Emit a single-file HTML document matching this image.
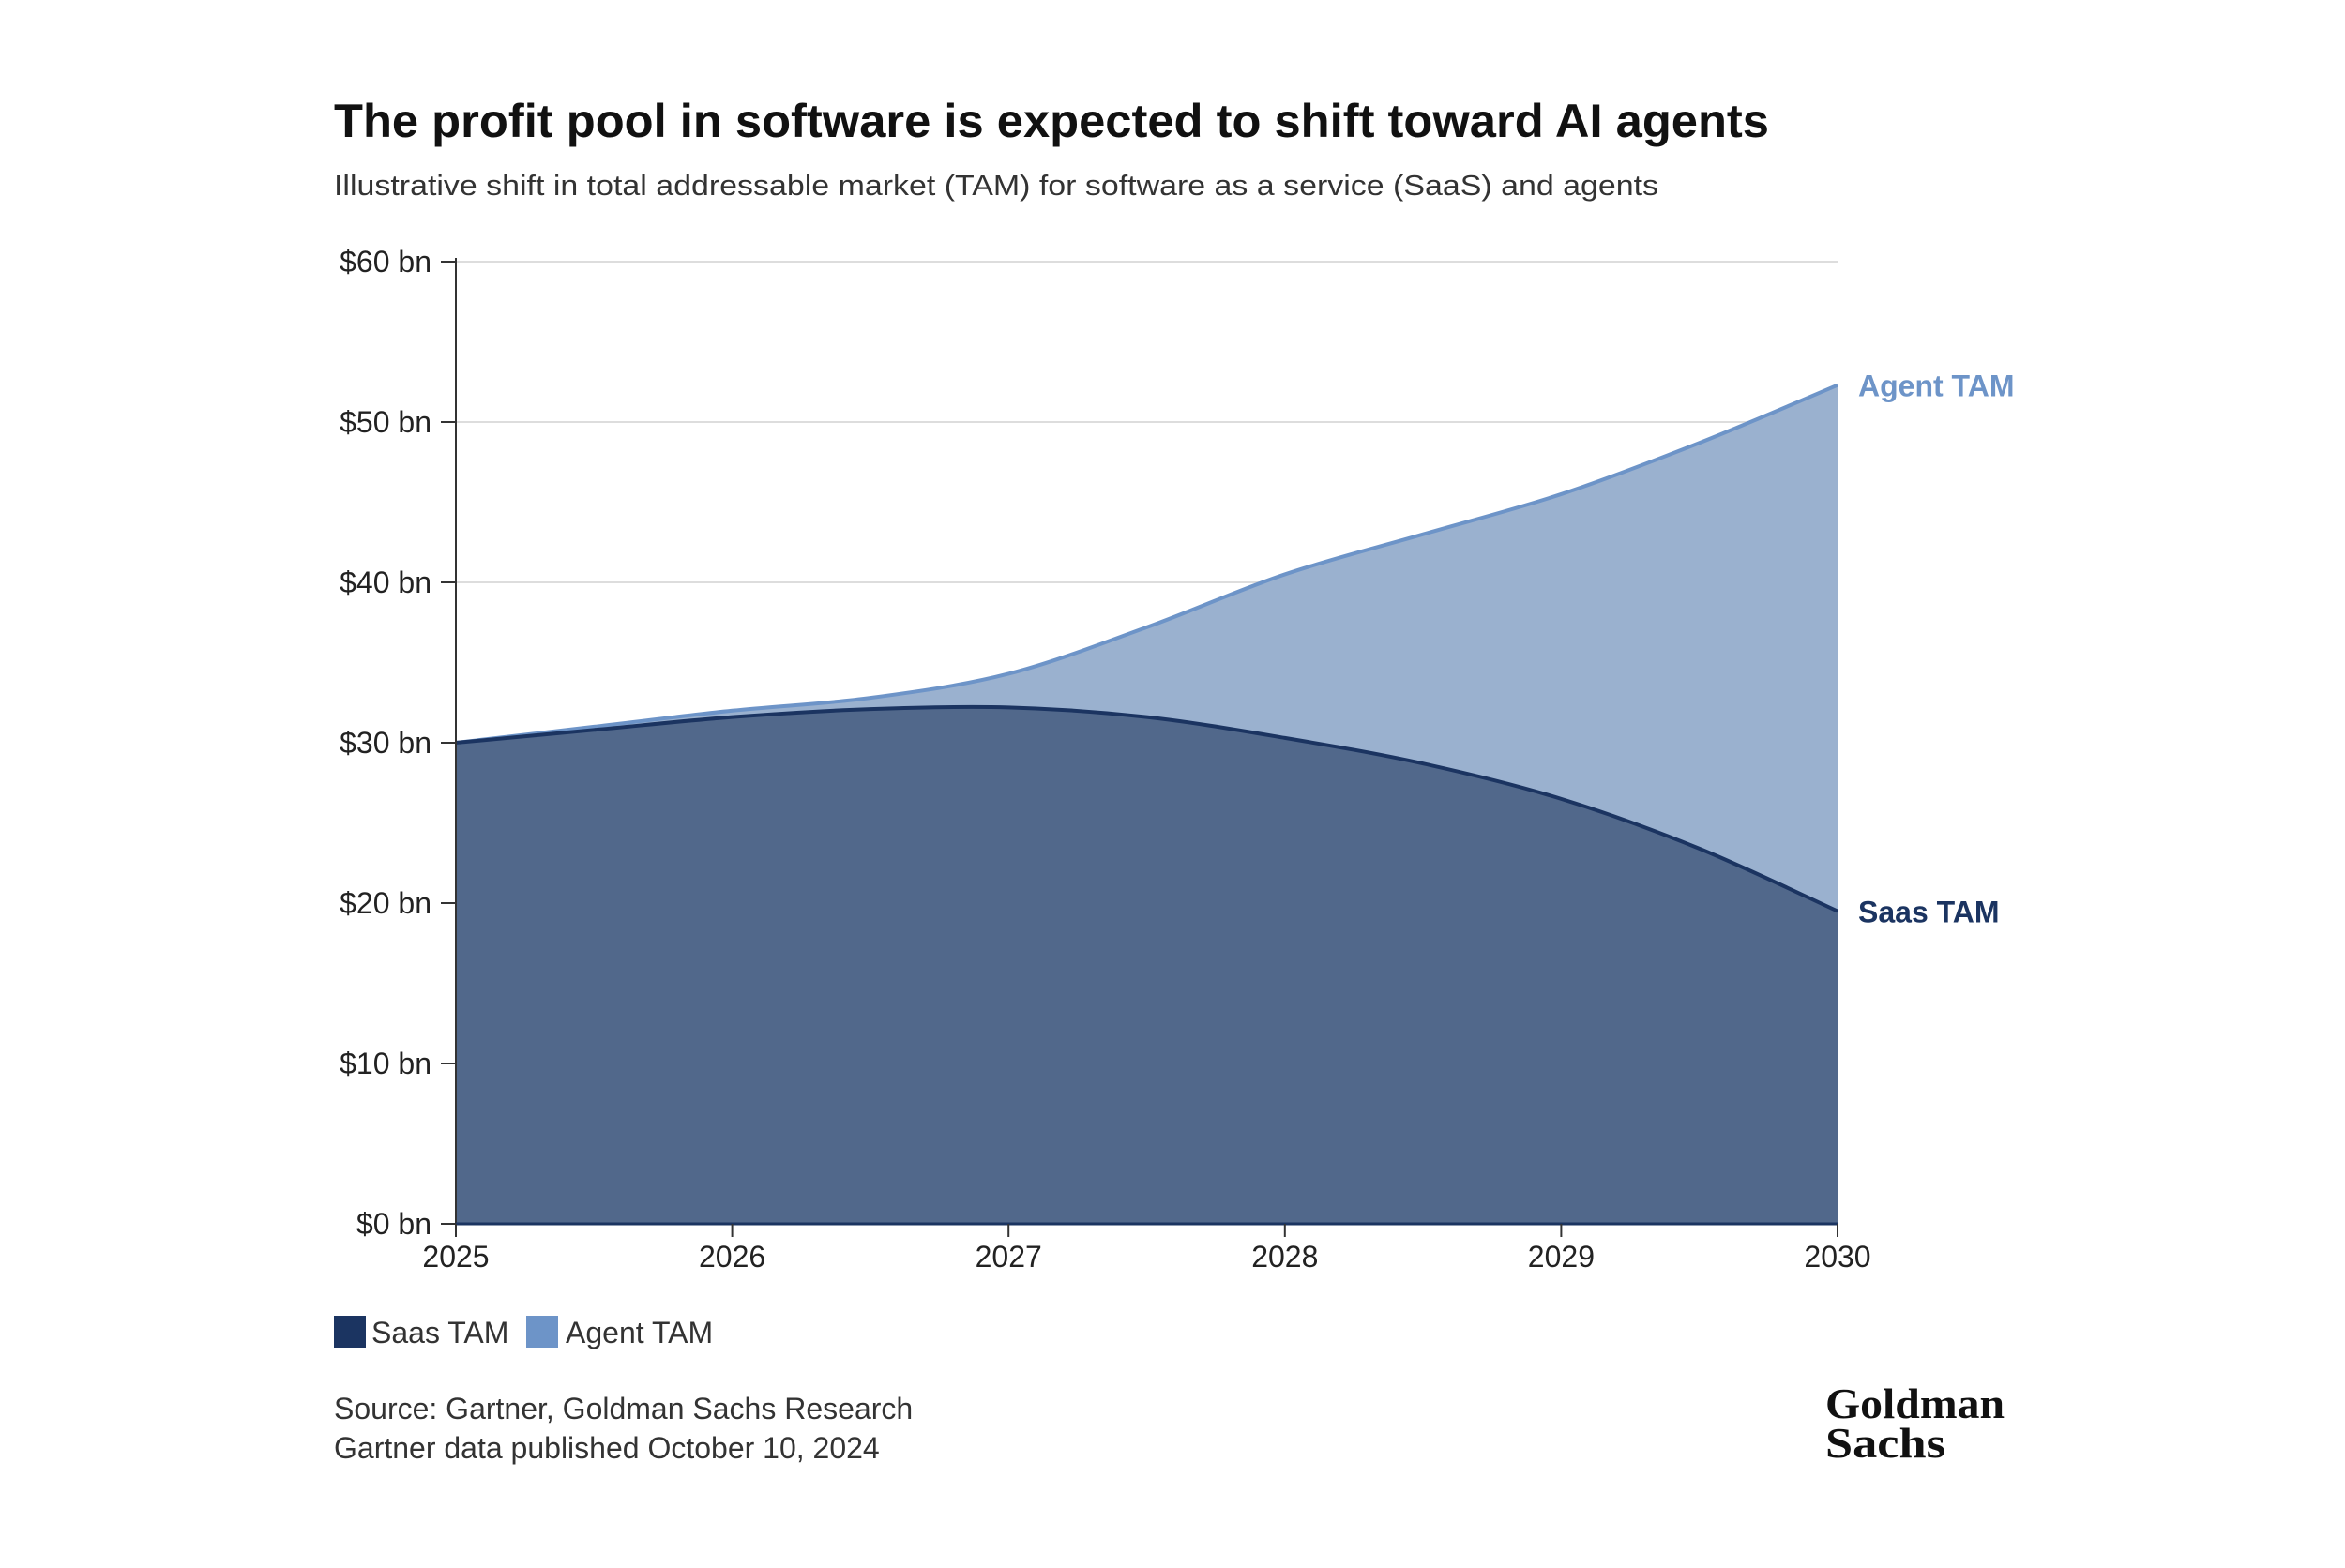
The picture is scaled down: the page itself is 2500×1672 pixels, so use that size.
<!DOCTYPE html>
<html><head><meta charset="utf-8"><style>
body{margin:0;background:#fff;width:2500px;height:1667px;overflow:hidden;font-family:"Liberation Sans",sans-serif;}
svg text{font-family:"Liberation Sans",sans-serif;}
</style></head><body>
<svg width="2500" height="1667">
<text x="356" y="146" font-size="50" font-weight="bold" fill="#111" textLength="1530" lengthAdjust="spacingAndGlyphs">The profit pool in software is expected to shift toward AI agents</text>
<text x="356" y="208" font-size="31" fill="#333" textLength="1412" lengthAdjust="spacingAndGlyphs">Illustrative shift in total addressable market (TAM) for software as a service (SaaS) and agents</text>
<g id="grid"></g><g id="areas"></g><g id="axes"></g>
<rect x="356" y="1403" width="34" height="34" fill="#1b3461"/>
<text x="396" y="1432" font-size="32" fill="#333">Saas TAM</text>
<rect x="561" y="1403" width="34" height="34" fill="#6d94c8"/>
<text x="603" y="1432" font-size="32" fill="#333">Agent TAM</text>
<text x="356" y="1513" font-size="32" fill="#333">Source: Gartner, Goldman Sachs Research</text>
<text x="356" y="1555" font-size="32" fill="#333">Gartner data published October 10, 2024</text>
<text x="1946" y="1512" font-size="46" font-weight="bold" fill="#111" style="font-family:'Liberation Serif',serif" textLength="191" lengthAdjust="spacingAndGlyphs">Goldman</text>
<text x="1946" y="1554" font-size="46" font-weight="bold" fill="#111" style="font-family:'Liberation Serif',serif" textLength="128" lengthAdjust="spacingAndGlyphs">Sachs</text>
</svg>
<script>
const years=[2025,2025.5,2026,2026.5,2027,2027.5,2028,2028.5,2029,2029.5,2030];
const saas=[30,30.8,31.6,32.1,32.2,31.6,30.3,28.7,26.5,23.4,19.5];
const total=[30,31,32,32.8,34.3,37.2,40.5,43,45.5,48.7,52.3];
const yTicks=[0,10,20,30,40,50,60];
const xTicks=[2025,2026,2027,2028,2029,2030];
const X0=486,X1=1959,Y0=1305,Y1=279;
const sx=v=>X0+(v-2025)/5*(X1-X0), sy=v=>Y0-(v/60)*(Y0-Y1);
const NS="http://www.w3.org/2000/svg";
function mk(p,t,a){const e=document.createElementNS(NS,t);for(const k in a)e.setAttribute(k,a[k]);p.appendChild(e);return e;}
function curve(xs,ys){let pts=xs.map((x,i)=>[sx(x),sy(ys[i])]);let d="M"+pts[0];for(let i=0;i<pts.length-1;i++){const p0=pts[Math.max(0,i-1)],p1=pts[i],p2=pts[i+1],p3=pts[Math.min(pts.length-1,i+2)];const c1=[p1[0]+(p2[0]-p0[0])/6,p1[1]+(p2[1]-p0[1])/6],c2=[p2[0]-(p3[0]-p1[0])/6,p2[1]-(p3[1]-p1[1])/6];d+=" C"+c1+" "+c2+" "+p2;}return d;}
const grid=document.getElementById('grid'),areas=document.getElementById('areas'),axes=document.getElementById('axes');
yTicks.forEach(v=>{
const l=mk(grid,'line',{x1:X0,x2:X1,y1:sy(v),y2:sy(v),stroke:'#ddd','stroke-width':2});


const t=mk(axes,'line',{x1:X0-16,x2:X0,y1:sy(v),y2:sy(v),stroke:'#333','stroke-width':2});


const tx=mk(axes,'text',{x:X0-26,y:sy(v)+11,'font-size':32,fill:'#222','text-anchor':'end'});tx.textContent='$'+v+' bn';


});
const topD=curve(years,total),botD=curve(years,saas);
const a1=mk(areas,'path',{d:topD+` L${sx(2030)},${Y0} L${sx(2025)},${Y0} Z`,fill:'#9ab1cf'});


const a2=mk(areas,'path',{d:botD+` L${sx(2030)},${Y0} L${sx(2025)},${Y0} Z`,fill:'#51688b'});


const l1=mk(areas,'path',{d:topD,fill:'none',stroke:'#6d94c8','stroke-width':4});


const l2=mk(areas,'path',{d:botD,fill:'none',stroke:'#1b3461','stroke-width':4});


const ya=mk(axes,'line',{x1:X0,x2:X0,y1:Y1-4,y2:Y0,stroke:'#333','stroke-width':2});


const xa=mk(axes,'line',{x1:X0,x2:X1,y1:Y0,y2:Y0,stroke:'#1b3461','stroke-width':3});


xTicks.forEach(v=>{
const t=mk(axes,'line',{x1:sx(v),x2:sx(v),y1:Y0,y2:Y0+14,stroke:'#333','stroke-width':2});


const tx=mk(axes,'text',{x:sx(v),y:Y0+46,'font-size':32,fill:'#222','text-anchor':'middle'});tx.textContent=v;


});
const n=years.length-1;
const e1=mk(axes,'text',{x:X1+22,y:sy(total[n])+12,'font-size':32,'font-weight':'bold',fill:'#6d94c8'});e1.textContent='Agent TAM';


const e2=mk(axes,'text',{x:X1+22,y:sy(saas[n])+12,'font-size':32,'font-weight':'bold',fill:'#1b3461'});e2.textContent='Saas TAM';


</script>
</body></html>
